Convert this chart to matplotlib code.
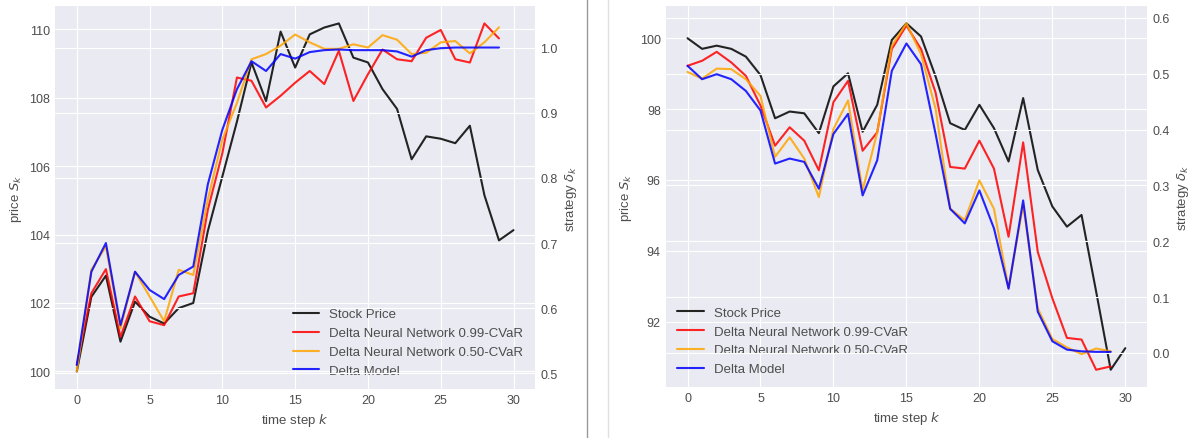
import numpy as np
import matplotlib.pyplot as plt
from matplotlib.lines import Line2D

plt.style.use('seaborn-v0_8-darkgrid')
plt.rcParams['font.family'] = ['Liberation Sans', 'DejaVu Sans']
plt.rcParams['text.color'] = '0.3'
plt.rcParams['axes.labelcolor'] = '0.3'
plt.rcParams['xtick.color'] = '0.3'
plt.rcParams['ytick.color'] = '0.3'

labels = ['Stock Price', 'Delta Neural Network 0.99-CVaR',
          'Delta Neural Network 0.50-CVaR', 'Delta Model']

# left path: price goes up
k_price = np.arange(31)
k_delta = np.arange(30)
price_up = [100.0, 102.18, 102.8, 100.87, 102.04, 101.6, 101.4, 101.85, 102.0, 104.1,
            105.7, 107.3, 109.03, 107.9, 109.93, 108.88, 109.85, 110.05, 110.17, 109.17,
            109.03, 108.25, 107.67, 106.2, 106.87, 106.8, 106.67, 107.18, 105.15, 103.83,
            104.13]
cvar99_up = [0.513, 0.623, 0.66, 0.556, 0.618, 0.58, 0.574, 0.618, 0.623, 0.751,
             0.838, 0.954, 0.949, 0.908, 0.926, 0.946, 0.964, 0.944, 0.995, 0.918,
             0.959, 0.997, 0.982, 0.979, 1.015, 1.027, 0.982, 0.977, 1.037, 1.014]
cvar50_up = [0.503, 0.659, 0.695, 0.569, 0.656, 0.618, 0.58, 0.659, 0.651, 0.767,
             0.859, 0.915, 0.982, 0.99, 1.003, 1.02, 1.008, 0.998, 0.998, 1.005,
             1.0, 1.019, 1.012, 0.99, 0.992, 1.008, 1.01, 0.991, 1.008, 1.031]
model_up = [0.513, 0.656, 0.70, 0.574, 0.656, 0.628, 0.614, 0.651, 0.664, 0.79,
            0.874, 0.936, 0.979, 0.964, 0.99, 0.983, 0.993, 0.996, 0.997, 0.996,
            0.996, 0.996, 0.994, 0.986, 0.996, 0.999, 1.0, 1.0, 1.0, 1.0]

# right path: price goes down
price_down = [100.0, 99.7, 99.79, 99.7, 99.48, 98.96, 97.74, 97.93, 97.88, 97.32,
              98.64, 99.01, 97.36, 98.12, 99.95, 100.42, 100.05, 98.92, 97.6, 97.41,
              98.12, 97.46, 96.52, 98.31, 96.28, 95.25, 94.68, 95.01, 92.85, 90.64,
              91.25]
cvar99_down = [0.514, 0.523, 0.539, 0.52, 0.496, 0.443, 0.371, 0.404, 0.38, 0.327,
               0.449, 0.487, 0.362, 0.395, 0.544, 0.586, 0.544, 0.466, 0.333, 0.33,
               0.38, 0.33, 0.208, 0.377, 0.181, 0.098, 0.027, 0.024, -0.03, -0.024]
cvar50_down = [0.503, 0.491, 0.509, 0.508, 0.49, 0.46, 0.351, 0.386, 0.348, 0.279,
               0.401, 0.452, 0.291, 0.395, 0.55, 0.59, 0.535, 0.437, 0.258, 0.238,
               0.309, 0.258, 0.116, 0.265, 0.08, 0.025, 0.01, -0.002, 0.008, 0.003]
model_down = [0.514, 0.49, 0.499, 0.49, 0.469, 0.434, 0.339, 0.348, 0.342, 0.294,
              0.392, 0.428, 0.282, 0.345, 0.505, 0.554, 0.517, 0.392, 0.258, 0.232,
              0.291, 0.223, 0.115, 0.273, 0.074, 0.021, 0.006, 0.003, 0.002, 0.002]

fig = plt.figure(figsize=(11.95, 4.39), dpi=100)
fig.patch.set_facecolor('white')


def panel(rect, price, d99, d50, dm, loc):
    ax = fig.add_axes(rect)
    ax.plot(k_price, price, color='k', lw=1.5, alpha=0.85)
    ax.set_xlabel('time step $k$', fontsize=9.5)
    ax.set_ylabel('price $S_k$', fontsize=9.5)
    ax.tick_params(labelsize=9)
    ax2 = ax.twinx()
    ax2.plot(k_delta, d99, color='red', lw=1.5, alpha=0.85)
    ax2.plot(k_delta, d50, color='orange', lw=1.5, alpha=0.85)
    ax2.plot(k_delta, dm, color='blue', lw=1.5, alpha=0.85)
    ax2.set_ylabel('strategy $\\delta_k$', fontsize=9.5)
    ax2.tick_params(labelsize=9)
    handles = [Line2D([], [], color=c, lw=1.5, alpha=0.85)
               for c in ['k', 'red', 'orange', 'blue']]
    # legend sits on the price axes, so the twin's grid is drawn over it
    ax.legend(handles, labels, loc=loc, fontsize=9.5, frameon=False, labelspacing=0.5)
    return ax, ax2


panel([0.046, 0.112, 0.402, 0.872], price_up, cvar99_up, cvar50_up, model_up, 'lower right')
panel([0.557, 0.116, 0.403, 0.868], price_down, cvar99_down, cvar50_down, model_down, 'lower left')

fig.add_artist(Line2D([587 / 1195, 587 / 1195], [0, 1], color='0.6', lw=1))
fig.add_artist(Line2D([608 / 1195, 608 / 1195], [0, 1], color='0.88', lw=1))

fig.savefig('out.png', dpi=100)
